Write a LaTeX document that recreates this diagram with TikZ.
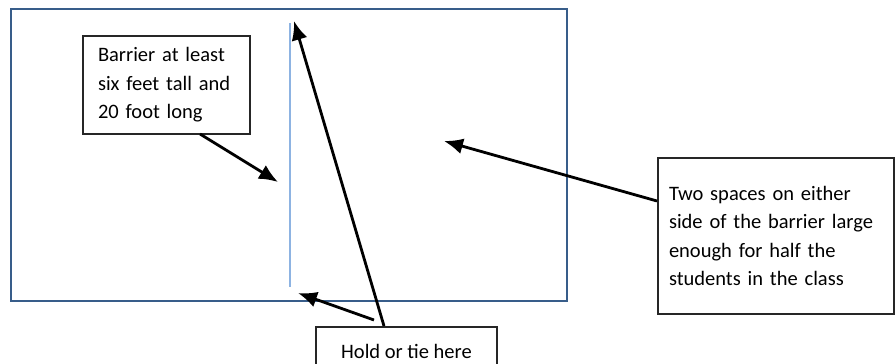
\documentclass[tikz,border=0pt]{standalone}
\usepackage{fontspec}
\setmainfont{Carlito}
\usetikzlibrary{arrows.meta}
\definecolor{frameblue}{HTML}{385D8A}
\definecolor{lineblue}{HTML}{8DB3E2}
\begin{document}
\begin{tikzpicture}[x=1pt,y=-1pt,
  textbox/.style={draw=black!85,line width=1.2pt,rectangle,inner sep=0pt,align=left,
    font=\fontsize{20.5}{28.5}\selectfont},
  pointer/.style={line width=2.8pt,-{Latex[length=19pt,width=16pt]}}]
\useasboundingbox (0,0) rectangle (895,364);
\clip (0,0) rectangle (895,364);
\fill[white] (0,0) rectangle (895,364);
% frame
\node[draw=frameblue,line width=1.6pt,minimum width=556pt,minimum height=292pt,inner sep=0pt] (frame) at (289,155) {};
% barrier line
\coordinate (btop) at (290,23);
\coordinate (bbot) at (290,287);
\draw[lineblue,line width=1.3pt] (btop) -- (bbot);
% text boxes
\node[textbox,minimum width=167pt,minimum height=98pt,text width=137pt] (barrier) at (166.5,85) {Barrier at least\\six feet tall and\\20 foot long};
\node[textbox,minimum width=236pt,minimum height=156pt,text width=214pt] (spaces) at (776,236) {Two spaces on either\\side of the barrier large\\enough for half the\\students in the class};
\node[textbox,minimum width=181pt,minimum height=48pt] (hold) at (406.5,351) {Hold or tie here};
% arrow endpoints
\coordinate (t1) at (200,134);
\coordinate (h1) at (278,182);
\coordinate (t2) at (657,201);
\coordinate (h2) at (444,141);
\coordinate (t3) at (384,326);
\coordinate (h3) at (294,21);
\coordinate (t4) at (374,320);
\coordinate (h4) at (298,293);
\draw[pointer] (t1) -- (h1);
\draw[pointer] (t2) -- (h2);
\draw[pointer] (t3) -- (h3);
\draw[pointer] (t4) -- (h4);
\end{tikzpicture}
\end{document}
